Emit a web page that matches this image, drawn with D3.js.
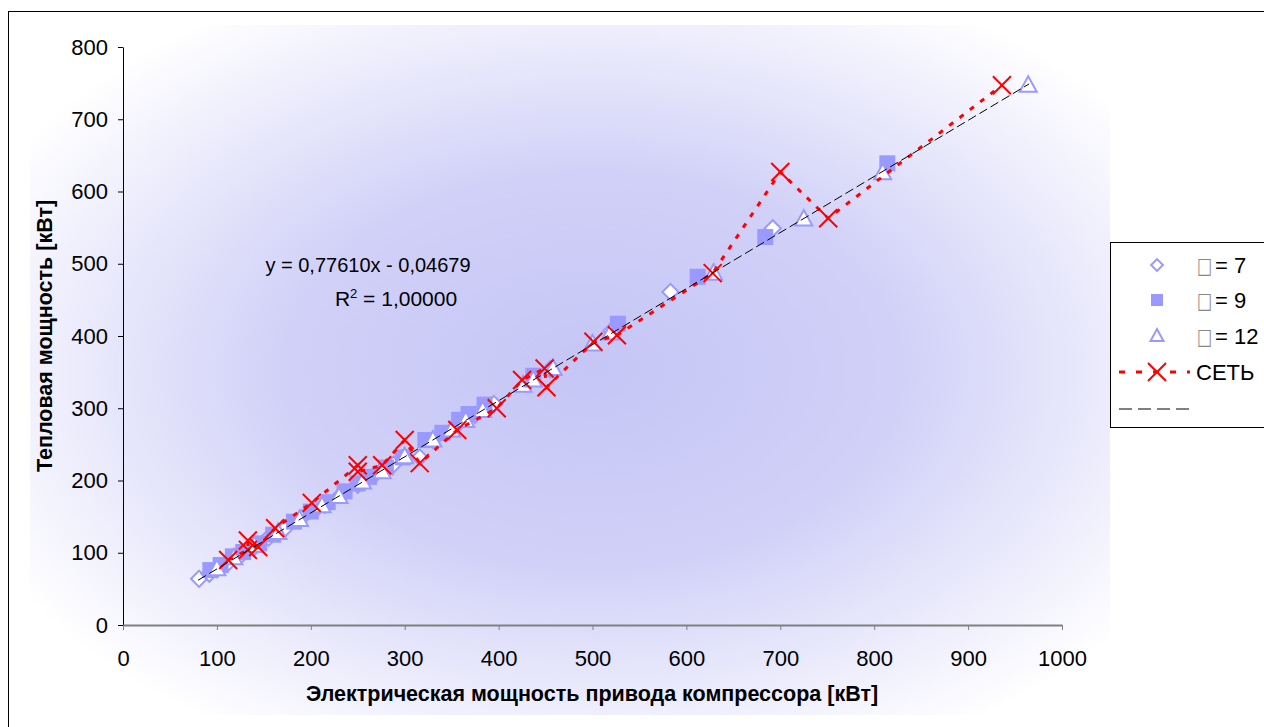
<!DOCTYPE html>
<meta charset="utf-8">
<head>
<title>Тепловая мощность</title>
<style>
body { margin: 0; background: #fff; }
svg { display: block; font-family: "Liberation Sans", Arial, sans-serif; }
.tick text { font-size: 22px; fill: #000; }
.axis-title { font-size: 21.5px; font-weight: bold; }
.legend text { font-size: 22px; }
</style>
</head>
<body>
<script src="https://cdn.jsdelivr.net/npm/d3@7"></script>
<script>

    // data: [electric kW, heat kW]
    var ser7 = [[81,64],[92,71],[100,77],[112,86],[125,96],[140,108],[155,121],[172,133],[190,148],
        [205,160],[215,166],[232,180],[250,194],[268,208],[288,222],[316,232],[330,256],[352,272],
        [375,291],[395,306],[430,334],[455,354],[520,407],[583,461],[692,549]];
    var ser9 = [[93,76],[104,83],[117,95],[128,101],[145,113],[160,125],[182,143],[200,157],[218,170],
        [236,185],[250,196],[262,205],[280,218],[298,232],[322,256],[340,266],[358,284],[368,292],
        [385,305],[437,345],[527,417],[612,482],[684,537],[814,639]];
    var ser12 = [[100,78],[118,93],[140,110],[165,128],[188,146],[212,165],[230,178],[255,198],
        [276,212],[300,233],[330,256],[350,270],[365,283],[383,297],[426,332],[437,339],[458,355],
        [500,389],[519,404],[629,487],[725,562],[809,626],[964,747]];
    var serNet = [[112,90],[133,104],[133,117],[144,108],[162,134],[201,169],[250,221],[250,212],
        [276,221],[300,256],[316,224],[356,270],[398,300],[425,339],[449,355],[451,329],[501,392],
        [526,401],[628,487],[700,627],[751,563],[936,747]];

    var slope = 0.77610, intercept = -0.04679;
    var trendRange = [80, 965];

    var xTicks = [0,100,200,300,400,500,600,700,800,900,1000];
    var yTicks = [0,100,200,300,400,500,600,700,800];

    var legendItems = ["7", "9", "12"];

    var W = 1264, H = 727,
        blue = "#9999ff";

    var svg = d3.select("body").append("svg")
        .attr("width", W)
        .attr("height", H);

    // Background gradient
    var defs = svg.append("defs");
    var grad = defs.append("radialGradient")
        .attr("id", "bg")
        .attr("cx", "0.52").attr("cy", "0.5").attr("r", "0.62");
    grad.append("stop").attr("offset", "0").attr("stop-color", "#c6c6f6");
    grad.append("stop").attr("offset", "0.45").attr("stop-color", "#d0d0f8");
    grad.append("stop").attr("offset", "1").attr("stop-color", "#ffffff");

    svg.append("rect")
        .attr("x", 8.5).attr("y", 11.5)
        .attr("width", 1300).attr("height", 800)
        .attr("fill", "#fff")
        .attr("stroke", "#000");

    svg.append("rect")
        .attr("x", 30).attr("y", 25)
        .attr("width", 1080).attr("height", 690)
        .attr("fill", "url(#bg)");

    var x = d3.scaleLinear().domain([0, 1000]).range([123, 1062]);
    var y = d3.scaleLinear().domain([0, 800]).range([625, 47]);

    // Axes
    var yAxis = svg.append("g")
        .attr("transform", "translate(123,0)")
        .call(d3.axisLeft(y).tickValues(yTicks).tickSize(5).tickPadding(10).tickSizeOuter(0));
    yAxis.select(".domain").attr("stroke", "#000");

    var xAxis = svg.append("g")
        .attr("transform", "translate(0,625)")
        .call(d3.axisBottom(x).tickValues(xTicks).tickFormat(d3.format("d"))
            .tickSize(5).tickPadding(20).tickSizeOuter(0));
    xAxis.select(".domain").attr("stroke", "#808080").attr("stroke-width", 2);
    xAxis.selectAll(".tick line").attr("stroke", "#808080");
    svg.selectAll(".tick text").attr("font-family", null).attr("font-size", null);

    svg.append("text")
        .attr("class", "axis-title")
        .attr("x", 592).attr("y", 701)
        .attr("text-anchor", "middle")
        .text("Электрическая мощность привода компрессора [кВт]");

    svg.append("text")
        .attr("class", "axis-title")
        .attr("transform", "translate(52,336) rotate(-90)")
        .attr("text-anchor", "middle")
        .text("Тепловая мощность [кВт]");

    // Marker shapes
    var diamond = d3.symbol().type(d3.symbolSquare).size(130)();
    var tri = "M0,-9L8.5,6.5L-8.5,6.5Z";

    svg.append("g").selectAll("path").data(ser7).enter().append("path")
        .attr("d", diamond)
        .attr("transform", function(d) { return "translate(" + x(d[0]) + "," + y(d[1]) + ") rotate(45)"; })
        .attr("fill", "#fff")
        .attr("stroke", blue)
        .attr("stroke-width", 2);

    svg.append("g").selectAll("rect").data(ser9).enter().append("rect")
        .attr("x", function(d) { return x(d[0]) - 8; })
        .attr("y", function(d) { return y(d[1]) - 8; })
        .attr("width", 16).attr("height", 16)
        .attr("fill", blue);

    svg.append("g").selectAll("path").data(ser12).enter().append("path")
        .attr("d", tri)
        .attr("transform", function(d) { return "translate(" + x(d[0]) + "," + y(d[1]) + ")"; })
        .attr("fill", "#fff")
        .attr("stroke", blue)
        .attr("stroke-width", 2);

    // Network series
    var line = d3.line().x(function(d) { return x(d[0]); }).y(function(d) { return y(d[1]); });
    svg.append("path")
        .datum(serNet)
        .attr("d", line)
        .attr("fill", "none")
        .attr("stroke", "#ff0000")
        .attr("stroke-width", 3)
        .attr("stroke-dasharray", "5,8");

    function cross(g, cx, cy, s) {
        g.append("path")
            .attr("d", "M" + (cx - s) + "," + (cy - s) + "L" + (cx + s) + "," + (cy + s) +
                "M" + (cx - s) + "," + (cy + s) + "L" + (cx + s) + "," + (cy - s))
            .attr("stroke", "#ff0000")
            .attr("stroke-width", 2)
            .attr("fill", "none");
    }
    var crosses = svg.append("g");
    serNet.forEach(function(d) { cross(crosses, x(d[0]), y(d[1]), 9); });

    // Trendline
    svg.append("line")
        .attr("x1", x(trendRange[0])).attr("y1", y(slope * trendRange[0] + intercept))
        .attr("x2", x(trendRange[1])).attr("y2", y(slope * trendRange[1] + intercept))
        .attr("stroke", "#000")
        .attr("stroke-width", 1)
        .attr("stroke-dasharray", "9,4");

    var eq = svg.append("g").attr("font-size", 20);
    eq.append("text").attr("x", 368).attr("y", 272).attr("text-anchor", "middle")
        .text("y = " + d3.format(".5f")(slope).replace(".", ",") + "x - " +
            d3.format(".5f")(-intercept).replace(".", ","));
    var r2 = eq.append("text").attr("x", 396).attr("y", 306).attr("text-anchor", "middle")
        .attr("font-size", 21);
    r2.append("tspan").text("R");
    r2.append("tspan").attr("dy", -8).attr("font-size", 13).text("2");
    r2.append("tspan").attr("dy", 8).text(" = 1,00000");

    // Legend
    var lg = svg.append("g").attr("class", "legend");
    lg.append("rect")
        .attr("x", 1110.5).attr("y", 242.5)
        .attr("width", 200).attr("height", 185)
        .attr("fill", "#fff")
        .attr("stroke", "#000");

    var rows = [265, 300, 336, 372, 409];
    var mx = 1157;

    lg.append("path").attr("d", d3.symbol().type(d3.symbolSquare).size(70)())
        .attr("transform", "translate(" + mx + "," + rows[0] + ") rotate(45)")
        .attr("fill", "#fff").attr("stroke", blue).attr("stroke-width", 2);
    lg.append("rect").attr("x", mx - 6).attr("y", rows[1] - 6).attr("width", 12).attr("height", 12)
        .attr("fill", blue);
    lg.append("path").attr("d", "M0,-7L6.5,5L-6.5,5Z")
        .attr("transform", "translate(" + mx + "," + rows[2] + ")")
        .attr("fill", "#fff").attr("stroke", blue).attr("stroke-width", 2);

    legendItems.forEach(function(v, i) {
        // the box glyph stands for a symbol that the source font could not show
        lg.append("text")
            .attr("transform", "translate(1197," + (rows[i] + 8) + ") scale(0.72,1)")
            .attr("font-family", "DejaVu Sans")
            .attr("font-size", 19)
            .attr("fill", "#888")
            .text("□");
        lg.append("text").attr("x", 1215).attr("y", rows[i] + 8).text("= " + v);
    });

    lg.append("line")
        .attr("x1", 1119).attr("x2", 1190).attr("y1", rows[3]).attr("y2", rows[3])
        .attr("stroke", "#ff0000").attr("stroke-width", 3).attr("stroke-dasharray", "6,11");
    cross(lg, mx, rows[3], 9);
    lg.append("text").attr("x", 1196).attr("y", rows[3] + 8).text("СЕТЬ");

    lg.append("line")
        .attr("x1", 1119).attr("x2", 1189).attr("y1", rows[4]).attr("y2", rows[4])
        .attr("stroke", "#000").attr("stroke-width", 1).attr("stroke-dasharray", "13,6");

</script>
</body>
